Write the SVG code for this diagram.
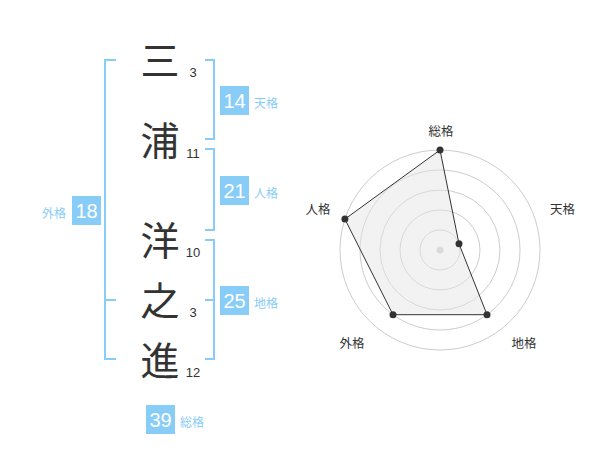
<svg xmlns="http://www.w3.org/2000/svg" width="600" height="470" viewBox="0 0 600 470">
<style>
.br{fill:none;stroke:#88ccf8;stroke-width:2}
.box{fill:#88ccf8}
.bn{font-family:"Liberation Sans",Arial,sans-serif;font-size:20px;fill:#fff;text-anchor:middle}
.lb{font-family:"Noto Sans CJK JP",sans-serif;font-size:12px;fill:#88ccf8}
.ch{font-family:"Noto Sans CJK JP",sans-serif;font-size:39px;fill:#333;text-anchor:middle}
.st{font-family:"Liberation Sans",Arial,sans-serif;font-size:13px;fill:#333;text-anchor:middle}
.ring{fill:none;stroke:#cccccc;stroke-width:1}
.rl{font-family:"Noto Sans CJK JP",sans-serif;font-size:12.5px;fill:#333;text-anchor:middle}
.pt{fill:#333}
</style>
<rect width="600" height="470" fill="#fff"/>
<g id="connectors">
<path class="br" d="M116,60 H105 V359 H116 M105,300 H116"/>
<path class="br" d="M205,60 H214 V139 H205"/>
<path class="br" d="M205,149 H214 V230 H205"/>
<path class="br" d="M205,240 H214 V359 H205 M205,300 H214"/>
</g>
<g id="chars">
<g id="c1"><text class="ch" x="160" y="75">三</text><text class="st" x="193" y="77">3</text></g>
<g id="c2"><text class="ch" x="160" y="155">浦</text><text class="st" x="193" y="158">11</text></g>
<g id="c3"><text class="ch" x="160" y="255">洋</text><text class="st" x="193" y="257">10</text></g>
<g id="c4"><text class="ch" x="160" y="315">之</text><text class="st" x="193" y="317">3</text></g>
<g id="c5"><text class="ch" x="160" y="375">進</text><text class="st" x="193" y="377">12</text></g>
</g>
<g id="tenkaku"><rect class="box" x="220" y="86" width="29" height="29"/><text class="bn" x="234.5" y="108">14</text><text class="lb" x="254" y="108">天格</text></g>
<g id="jinkaku"><rect class="box" x="220" y="176" width="29" height="29"/><text class="bn" x="234.5" y="198">21</text><text class="lb" x="254" y="198">人格</text></g>
<g id="chikaku"><rect class="box" x="220" y="286" width="29" height="29"/><text class="bn" x="234.5" y="308">25</text><text class="lb" x="254" y="308">地格</text></g>
<g id="gaikaku"><rect class="box" x="72" y="196" width="29" height="29"/><text class="bn" x="86.5" y="218">18</text><text class="lb" x="66" y="218" text-anchor="end">外格</text></g>
<g id="soukaku"><rect class="box" x="146" y="405" width="29" height="29"/><text class="bn" x="160.5" y="427">39</text><text class="lb" x="180" y="427">総格</text></g>
<g id="radar">
<circle class="ring" cx="440" cy="250" r="20"/>
<circle class="ring" cx="440" cy="250" r="40"/>
<circle class="ring" cx="440" cy="250" r="60"/>
<circle class="ring" cx="440" cy="250" r="80"/>
<circle class="ring" cx="440" cy="250" r="100"/>
<circle cx="440" cy="250" r="3.5" fill="#cccccc"/>
<polygon points="440,150 459,243.8 487,314.7 393,314.7 344.9,219.1" fill="#e6e6e6" fill-opacity="0.5" stroke="#333" stroke-width="1"/>
<circle class="pt" cx="440" cy="150" r="3.5"/>
<circle class="pt" cx="459" cy="243.8" r="3.5"/>
<circle class="pt" cx="487" cy="314.7" r="3.5"/>
<circle class="pt" cx="393" cy="314.7" r="3.5"/>
<circle class="pt" cx="344.9" cy="219.1" r="3.5"/>
<text class="rl" x="441" y="136">総格</text>
<text class="rl" x="562.5" y="214">天格</text>
<text class="rl" x="318" y="214">人格</text>
<text class="rl" x="352" y="348">外格</text>
<text class="rl" x="524" y="348">地格</text>
</g>
</svg>
